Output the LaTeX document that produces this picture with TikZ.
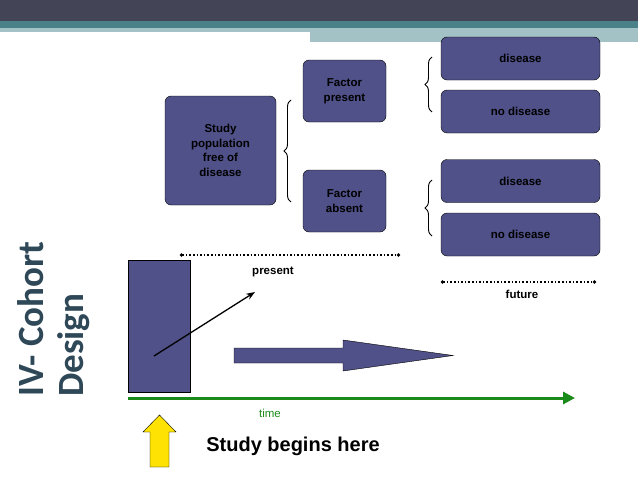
\documentclass[tikz,border=0pt]{standalone}
\usepackage{fontspec}
\setmainfont{Liberation Sans}
\newfontfamily\titlefont{Carlito}
\usetikzlibrary{arrows.meta,decorations.pathreplacing}
\definecolor{boxblue}{HTML}{4F5188}
\definecolor{topdark}{HTML}{434455}
\definecolor{topteal}{HTML}{4A8088}
\definecolor{lightteal}{HTML}{A3C2C6}
\definecolor{timegreen}{HTML}{1A8A1A}
\definecolor{titleblue}{HTML}{2F4858}
\tikzset{
  box/.style={draw, fill=boxblue, rounded corners=6pt, text=black, font=\bfseries\fontsize{11.5}{14.5}\selectfont, align=center, inner sep=0pt},
  brace/.style={decorate, decoration={brace, amplitude=7pt}, line width=0.9pt},
  dots/.style={dotted, line width=1.6pt, {Circle[length=3pt]}-{Circle[length=3pt]}},
  lbl/.style={font=\bfseries\fontsize{11.5}{14}\selectfont}
}
\begin{document}
\begin{tikzpicture}[x=1pt, y=-1pt, >=Stealth]
   \useasboundingbox (0,0) rectangle (638,479);
   % background bars
   \fill[lightteal] (0,28) rectangle (638,32);
   \fill[lightteal] (310,28) rectangle (638,42);
   \fill[topteal] (0,21) rectangle (638,28);
   \fill[topdark] (0,0) rectangle (638,21);
   % title
   \node[rotate=90, anchor=north west, align=left, text=titleblue, font=\titlefont\bfseries\fontsize{37}{40}\selectfont, inner sep=0pt] (title) at (17,397) {IV- Cohort\\Design};
   % nodes
   \node[box, minimum width=111pt, minimum height=109pt] (pop) at (220.5,150.5) {Study\\population\\free of\\disease};
   \node[box, minimum width=83pt, minimum height=62pt] (fp) at (344.5,91) {Factor\\present};
   \node[box, minimum width=83pt, minimum height=62pt] (fa) at (344.5,201) {Factor\\absent};
   \node[box, minimum width=159pt, minimum height=43pt] (d1) at (520.5,58.5) {disease};
   \node[box, minimum width=159pt, minimum height=43pt] (n1) at (520.5,111.5) {no disease};
   \node[box, minimum width=159pt, minimum height=43pt] (d2) at (520.5,181) {disease};
   \node[box, minimum width=159pt, minimum height=43pt] (n2) at (520.5,234.5) {no disease};
   % braces
   \coordinate (b1t) at (291,100); \coordinate (b1b) at (291,202);
   \coordinate (b2t) at (432,57);  \coordinate (b2b) at (432,112);
   \coordinate (b3t) at (432,180); \coordinate (b3b) at (432,236);
   \draw[brace] (b1b) -- (b1t);
   \draw[brace] (b2b) -- (b2t);
   \draw[brace] (b3b) -- (b3t);
   % time spans
   \coordinate (ps) at (180,255); \coordinate (pe) at (400,255);
   \coordinate (fs) at (441,282); \coordinate (fe) at (596,282);
   \draw[dots] (ps) -- (pe);
   \draw[dots] (fs) -- (fe);
   \node[lbl] (present) at (273,272) {present};
   \node[lbl] (future) at (522,294) {future};
   % cohort block
   \node[draw, fill=boxblue, minimum width=62pt, minimum height=132pt, inner sep=0pt] (block) at (159,326) {};
   \coordinate (as) at (154,356); \coordinate (ae) at (255,292);
   \draw[->, line width=1.3pt] (as) -- (ae);
   \draw[fill=boxblue] (234,348) -- (343,348) -- (343,340) -- (453,355.5) -- (343,371) -- (343,363) -- (234,363) -- cycle;
   % time axis
   \coordinate (t0) at (128,398); \coordinate (t1) at (575,398);
   \draw[timegreen, line width=3pt, -{Triangle[length=12pt,width=12pt]}] (t0) -- (t1);
   \node[text=timegreen, font=\fontsize{11.5}{14}\selectfont] (time) at (270,413) {time};
   % start marker
   \draw[fill=yellow!85!orange] (150,467) -- (150,432) -- (143,432) -- (159.5,415) -- (176,432) -- (169,432) -- (169,467) -- cycle;
   \node[font=\bfseries\fontsize{20}{24}\selectfont] (begins) at (293,446) {Study begins here};
\end{tikzpicture}
\end{document}
